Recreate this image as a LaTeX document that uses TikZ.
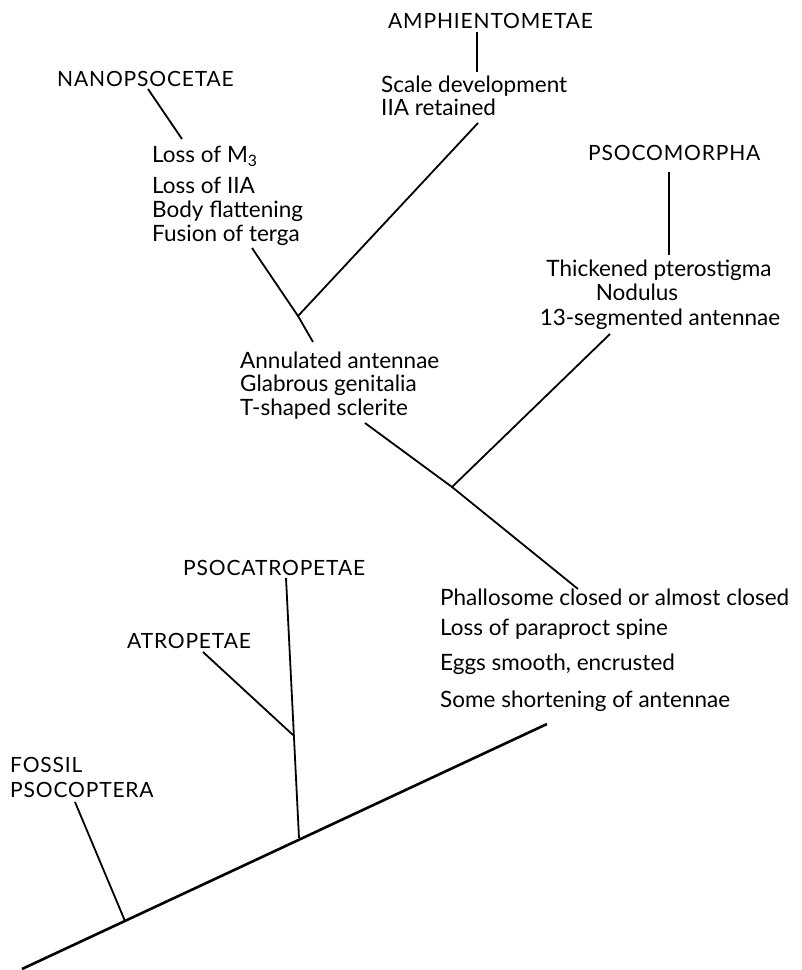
\documentclass[tikz,border=0pt]{standalone}
\usepackage{fontspec}
\setmainfont{Lato}
\newfontfamily\capsfont[LetterSpace=4]{Lato}
\tikzset{
  taxon/.style={anchor=base west,inner sep=0pt,font=\capsfont\fontsize{21}{21}\selectfont},
  trait/.style={anchor=base west,inner sep=0pt,font=\fontsize{22.5}{22.5}\selectfont},
  branch/.style={line width=1.8pt},
  stem/.style={line width=2.6pt}
}

\begin{document}
\begin{tikzpicture}[x=1pt,y=-1pt]
\useasboundingbox (0,0) rectangle (802,970);
\node[taxon] (nano) at (57,86) {NANOPSOCETAE};
\node[taxon] (amph) at (388,28) {AMPHIENTOMETAE};
\node[taxon] (psocom) at (588,160) {PSOCOMORPHA};
\node[taxon] (psocat) at (183,575) {PSOCATROPETAE};
\node[taxon] (atro) at (127,648) {ATROPETAE};
\node[taxon] (fossilA) at (10,772) {FOSSIL};
\node[taxon] (fossilB) at (10,797) {PSOCOPTERA};
\node[trait] (nanoA) at (152,162) {Loss of M\textsubscript{3}};
\node[trait] (nanoB) at (152,193) {Loss of IIA};
\node[trait] (nanoC) at (152,217) {Body flattening};
\node[trait] (nanoD) at (152,241) {Fusion of terga};
\node[trait] (amphA) at (381,92) {Scale development};
\node[trait] (amphB) at (381,115) {IIA retained};
\node[trait,anchor=base] (psocomA) at (659,276) {Thickened pterostigma};
\node[trait,anchor=base] (psocomB) at (637,300) {Nodulus};
\node[trait,anchor=base] (psocomC) at (660,325) {13-segmented antennae};
\node[trait] (nanampA) at (240,368) {Annulated antennae};
\node[trait] (nanampB) at (240,391) {Glabrous genitalia};
\node[trait] (nanampC) at (240,415) {T-shaped sclerite};
\node[trait] (cladeA) at (440,605) {Phallosome closed or almost closed};
\node[trait] (cladeB) at (440,635) {Loss of paraproct spine};
\node[trait] (cladeC) at (440,670) {Eggs smooth, encrusted};
\node[trait] (cladeD) at (440,707) {Some shortening of antennae};
\coordinate (root) at (22,969);
\coordinate (tip) at (547,724);
\coordinate (fossilfoot) at (125,921);
\coordinate (fossiltop) at (75,802);
\coordinate (psocatfoot) at (299,838);
\coordinate (psocattop) at (286,578);
\coordinate (atrofoot) at (293,735);
\coordinate (atrotop) at (203,652);
\coordinate (cladetop) at (365,423);
\coordinate (cladefork) at (452,487);
\coordinate (cladeend) at (578,589);
\coordinate (psocomtop) at (610,334);
\coordinate (psocomA1) at (669,172);
\coordinate (psocomA2) at (669,255);
\coordinate (amphA1) at (477,32);
\coordinate (amphA2) at (477,72);
\coordinate (nanampbot) at (313,342);
\coordinate (nanampfork) at (298,316);
\coordinate (nanotop) at (252,248);
\coordinate (amphtop) at (478,123);
\coordinate (nanoA1) at (148,89);
\coordinate (nanoA2) at (182,139);
\draw[stem] (root) -- (tip);
\draw[branch] (fossilfoot) -- (fossiltop);
\draw[branch] (psocatfoot) -- (psocattop);
\draw[branch] (atrofoot) -- (atrotop);
\draw[branch] (cladeend) -- (cladefork) -- (cladetop);
\draw[branch] (cladefork) -- (psocomtop);
\draw[branch] (psocomA1) -- (psocomA2);
\draw[branch] (nanampbot) -- (nanampfork) -- (nanotop);
\draw[branch] (nanampfork) -- (amphtop);
\draw[branch] (amphA1) -- (amphA2);
\draw[branch] (nanoA1) -- (nanoA2);
\end{tikzpicture}
\end{document}
